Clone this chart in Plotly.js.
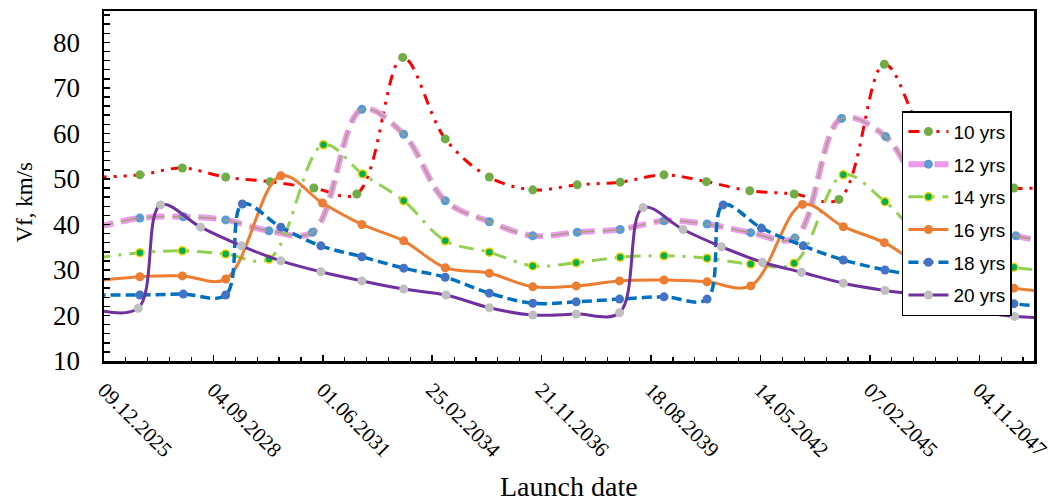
<!DOCTYPE html>
<html>
<head>
<meta charset="utf-8">
<script src="https://cdn.plot.ly/plotly-3.0.1.min.js"></script>
<style>html,body{margin:0;padding:0;background:#fff;}#chart{width:1061px;height:501px;}</style>
</head>
<body>
<div id="chart"></div>
<script>
// Launch dates as Excel serial day numbers, values Vf in km/s
const names = ["10 yrs", "12 yrs", "14 yrs", "16 yrs", "18 yrs", "20 yrs"];

const d10 = [45922, 46328, 46716, 47112, 47518, 47918, 48311, 48730, 49119, 49522, 49919, 50325, 50718, 51118, 51506, 51902, 52308, 52717, 53132, 53519, 53922, 54316, 54718];
const v10 = [50.4, 50.9, 52.4, 50.4, 49.4, 48.0, 46.7, 76.7, 58.8, 50.4, 47.6, 48.7, 49.3, 50.9, 49.4, 47.4, 46.7, 45.5, 75.2, 58.5, 50.5, 48.0, 48.5];

const d12 = [45922, 46328, 46725, 47112, 47508, 47906, 48357, 48739, 49119, 49522, 49919, 50325, 50718, 51118, 51512, 51911, 52314, 52741, 53144, 53538, 53940, 54334, 54737];
const v12 = [39.3, 41.4, 41.7, 41.0, 38.6, 38.3, 65.3, 59.8, 45.2, 40.6, 37.5, 38.3, 38.9, 40.8, 40.1, 38.2, 37.0, 63.3, 59.3, 45.0, 40.3, 37.5, 35.8];

const d14 = [45922, 46328, 46716, 47112, 47508, 48006, 48363, 48739, 49119, 49522, 49919, 50316, 50718, 51118, 51512, 51911, 52308, 52757, 53138, 53519, 53913, 54316, 54709];
const v14 = [32.6, 33.8, 34.2, 33.5, 32.4, 57.5, 51.1, 45.2, 36.4, 33.9, 30.9, 31.6, 32.8, 33.1, 32.6, 31.3, 31.5, 50.9, 45.0, 36.4, 33.5, 30.6, 29.8];

const d16 = [45922, 46328, 46716, 47112, 47616, 47997, 48357, 48739, 49119, 49522, 49919, 50316, 50712, 51118, 51512, 51911, 52384, 52757, 53132, 53519, 53913, 54316, 54709];
const v16 = [27.6, 28.5, 28.7, 28.0, 50.7, 44.7, 40.0, 36.4, 30.5, 29.3, 26.3, 26.5, 27.6, 27.8, 27.4, 26.5, 44.4, 39.5, 36.0, 30.5, 29.0, 26.0, 25.3];

const d18 = [45922, 46328, 46725, 47112, 47265, 47616, 47982, 48357, 48739, 49119, 49522, 49919, 50316, 50712, 51118, 51512, 51659, 52009, 52391, 52757, 53138, 53519, 53913, 54316, 54709];
const v18 = [24.5, 24.5, 24.7, 24.5, 44.5, 39.4, 35.3, 32.9, 30.4, 28.4, 24.9, 22.7, 23.0, 23.6, 24.1, 23.6, 44.3, 39.2, 35.3, 32.2, 30.0, 28.2, 24.9, 22.6, 22.0];

const d20 = [45922, 46313, 46517, 46883, 47256, 47616, 47982, 48357, 48739, 49126, 49522, 49919, 50316, 50712, 50926, 51292, 51643, 52018, 52375, 52757, 53138, 53519, 53901, 54322, 54709];
const v20 = [21.3, 21.6, 44.3, 39.4, 35.3, 32.0, 29.6, 27.6, 25.8, 24.5, 21.7, 20.1, 20.3, 20.6, 43.7, 38.9, 35.1, 31.7, 29.5, 27.1, 25.5, 24.2, 21.3, 19.8, 19.4];

const axisStartSerial = 46000;   // 09.12.2025
const axisEndSerial = 54500;
const majorStepDays = 1000;
const minorStepDays = 200;

function serialToDate(s) {
  return new Date(Date.UTC(1899, 11, 30) + s * 864e5).toISOString().slice(0, 10);
}
const toDates = arr => arr.map(serialToDate);

const serif = "Liberation Serif, Times New Roman, serif";
const sans = "Liberation Sans, Arial, sans-serif";

const traces = [
  {x: toDates(d10), y: v10, name: names[0], legendgroup: "a", mode: "lines+markers",
   line: {color: "#FF0000", width: 3, shape: "spline", smoothing: 1, dash: "11px,7px,3px,7px,3px,7px"},
   marker: {color: "#70AD47", size: 9}},
  {x: toDates(d12), y: v12, name: names[1], legendgroup: "b", mode: "lines+markers",
   line: {color: "#EE99EE", width: 6, shape: "spline", smoothing: 1, dash: "18px,8px"},
   marker: {color: "#5B9BD5", size: 9}},
  {x: toDates(d12), y: v12, name: names[1], legendgroup: "b", showlegend: false, mode: "lines",
   line: {color: "#A3A276", width: 1.5, shape: "spline", smoothing: 1, dash: "18px,8px"}, hoverinfo: "skip"},
  {x: toDates(d14), y: v14, name: names[2], legendgroup: "c", mode: "lines+markers",
   line: {color: "#92D050", width: 3, shape: "spline", smoothing: 1, dash: "15px,8px,3px,8px"},
   marker: {color: "#00B050", size: 8, line: {color: "#F2D200", width: 1.5}}},
  {x: toDates(d16), y: v16, name: names[3], legendgroup: "d", mode: "lines+markers",
   line: {color: "#ED7D31", width: 3, shape: "spline", smoothing: 1},
   marker: {color: "#ED7D31", size: 9}},
  {x: toDates(d18), y: v18, name: names[4], legendgroup: "e", mode: "lines+markers",
   line: {color: "#0070C0", width: 3.5, shape: "spline", smoothing: 1, dash: "10px,5px"},
   marker: {color: "#4472C4", size: 9}},
  {x: toDates(d20), y: v20, name: names[5], legendgroup: "f", mode: "lines+markers",
   line: {color: "#7030A0", width: 3, shape: "spline", smoothing: 1},
   marker: {color: "#BFBFBF", size: 9}}
];

const layout = {
  width: 1061, height: 501,
  margin: {l: 104, r: 27, t: 11, b: 140},
  paper_bgcolor: "#fff", plot_bgcolor: "#fff",
  showlegend: true,
  legend: {x: 0.858, y: 0.714, xanchor: "left", yanchor: "top",
           bgcolor: "#fff", bordercolor: "#000", borderwidth: 1.5,
           font: {family: sans, size: 19, color: "#000"}, tracegroupgap: 5, itemwidth: 40,
           entrywidth: 78, entrywidthmode: "pixels"},
  xaxis: {
    type: "date",
    range: [serialToDate(axisStartSerial), serialToDate(axisEndSerial)],
    tick0: serialToDate(axisStartSerial),
    dtick: majorStepDays * 864e5,
    tickformat: "%d.%m.%Y",
    tickangle: 45,
    ticks: "inside", ticklen: 6, tickwidth: 1.5, tickcolor: "#000",
    minor: {dtick: minorStepDays * 864e5, tick0: serialToDate(axisStartSerial), ticks: "inside", ticklen: 4, tickwidth: 1.2, tickcolor: "#000"},
    showgrid: false, zeroline: false,
    showline: true, linecolor: "#000", linewidth: 2.5, mirror: true,
    tickfont: {family: serif, size: 21, color: "#000"},
    ticklabelstandoff: 6
  },
  yaxis: {
    range: [10, 86.9],
    tick0: 10, dtick: 10,
    ticks: "inside", ticklen: 6, tickwidth: 1.5, tickcolor: "#000",
    minor: {dtick: 2, ticks: "inside", ticklen: 6, tickwidth: 1.5, tickcolor: "#000"},
    showgrid: false, zeroline: false,
    showline: true, linecolor: "#000", linewidth: 2.5, mirror: true,
    tickfont: {family: serif, size: 27, color: "#000"},
    ticklabelstandoff: 16
  },
  annotations: [
    {text: "Vf, km/s", xref: "paper", yref: "paper", x: -0.0855, y: 0.454, textangle: -90,
     showarrow: false, xanchor: "center", yanchor: "middle", font: {family: serif, size: 23, color: "#000"}},
    {text: "Launch date", xref: "paper", yref: "paper", x: 0.5, y: -0.36,
     showarrow: false, xanchor: "center", yanchor: "middle", font: {family: serif, size: 28, color: "#000"}}
  ]
};

Plotly.newPlot("chart", traces, layout, {displayModeBar: false, staticPlot: true});
</script>
</body>
</html>
